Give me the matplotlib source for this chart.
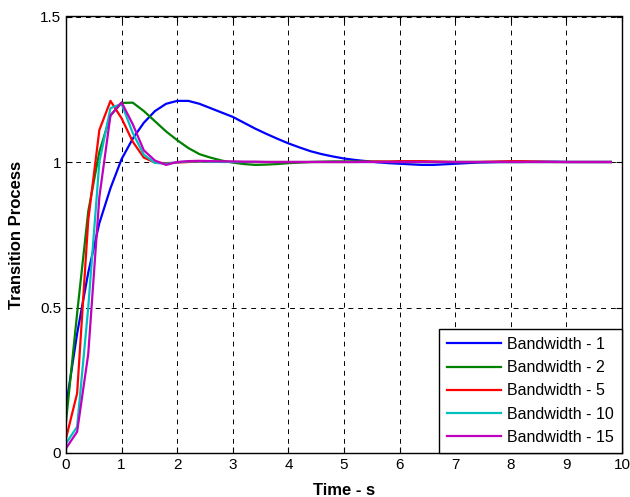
import matplotlib
matplotlib.use("Agg")
import matplotlib.pyplot as plt

plt.rcParams['font.family'] = ['Liberation Sans', 'DejaVu Sans']

time_s = [0.0, 0.2, 0.4, 0.6, 0.8, 1.0, 1.2, 1.4, 1.6, 1.8,
          2.0, 2.2, 2.4, 2.6, 2.8, 3.0, 3.2, 3.4, 3.6, 3.8,
          4.0, 4.2, 4.4, 4.6, 4.8, 5.0, 5.2, 5.4, 5.6, 5.8,
          6.0, 6.2, 6.4, 6.6, 6.8, 7.0, 7.2, 7.4, 7.6, 7.8,
          8.0, 8.2, 8.4, 8.6, 8.8, 9.0, 9.2, 9.4, 9.6, 9.8]

bw1 = [0.16, 0.41, 0.62, 0.79, 0.91, 1.01, 1.08, 1.135, 1.175, 1.20,
       1.21, 1.21, 1.20, 1.185, 1.17, 1.155, 1.135, 1.115, 1.097, 1.08,
       1.064, 1.05, 1.037, 1.027, 1.019, 1.012, 1.007, 1.003, 0.999, 0.996,
       0.994, 0.992, 0.990, 0.990, 0.992, 0.994, 0.996, 0.998, 0.999, 1.0,
       1.0, 1.0, 1.001, 1.001, 1.001, 1.0, 1.0, 1.0, 1.0, 1.0]

bw2 = [0.107, 0.48, 0.83, 1.035, 1.16, 1.203, 1.204, 1.175, 1.14, 1.105,
       1.075, 1.048, 1.027, 1.015, 1.005, 0.998, 0.993, 0.990, 0.991, 0.993,
       0.996, 0.998, 1.0, 1.001, 1.002, 1.002, 1.002, 1.001, 1.001, 1.0,
       1.0, 1.0, 1.0, 1.0, 1.0, 1.0, 1.0, 1.0, 1.0, 1.0,
       1.0, 1.0, 1.0, 1.0, 1.0, 1.0, 1.0, 1.0, 1.0, 1.0]

bw5 = [0.05, 0.205, 0.80, 1.11, 1.21, 1.15, 1.07, 1.015, 0.998, 0.996,
       0.998, 1.0, 1.001, 1.001, 1.001, 1.0, 1.0, 1.0, 1.0, 1.0,
       1.0, 1.0, 1.0, 1.0, 1.0, 1.0, 1.0, 1.001, 1.002, 1.002,
       1.003, 1.003, 1.003, 1.002, 1.001, 1.0, 1.0, 1.0, 1.001, 1.002,
       1.003, 1.003, 1.002, 1.001, 1.0, 1.0, 1.0, 1.0, 1.0, 1.0]

bw10 = [0.033, 0.09, 0.50, 1.0, 1.185, 1.20, 1.10, 1.025, 0.997, 0.994,
        0.999, 1.002, 1.002, 1.001, 1.0, 1.0, 1.0, 1.0, 1.0, 1.0,
        1.0, 1.0, 1.0, 1.0, 1.0, 1.0, 1.0, 1.0, 1.0, 1.0,
        1.0, 1.0, 1.0, 1.0, 1.0, 1.0, 1.0, 1.0, 1.0, 1.0,
        1.0, 1.0, 1.0, 1.0, 1.0, 1.0, 1.0, 1.0, 1.0, 1.0]

bw15 = [0.016, 0.073, 0.34, 0.88, 1.16, 1.205, 1.13, 1.04, 1.005, 0.990,
        1.0, 1.003, 1.004, 1.003, 1.002, 1.002, 1.001, 1.001, 1.0, 1.0,
        1.0, 1.0, 1.0, 1.0, 1.0, 1.0, 1.0, 1.0, 1.0, 1.0,
        1.0, 1.0, 1.0, 1.0, 1.0, 1.0, 1.0, 1.0, 1.0, 1.0,
        1.0, 1.0, 1.0, 1.0, 1.0, 1.0, 1.0, 1.0, 1.0, 1.0]

labels = ['Bandwidth - 1', 'Bandwidth - 2', 'Bandwidth - 5',
          'Bandwidth - 10', 'Bandwidth - 15']
colors = ['#0000ff', '#008000', '#ff0000', '#00bfbf', '#bf00bf']
series = [bw1, bw2, bw5, bw10, bw15]

x_ticks = [0, 1, 2, 3, 4, 5, 6, 7, 8, 9, 10]
y_ticks = [0, 0.5, 1, 1.5]
y_tick_labels = ['0', '0.5', '1', '1.5']

fig = plt.figure(figsize=(6.3, 4.97), dpi=100)
ax = fig.add_axes([66 / 630, 44 / 497, 556 / 630, 436.5 / 497])

for y, c, lab in zip(series, colors, labels):
    ax.plot(time_s, y, color=c, lw=1.6, label=lab)

ax.set_xlim(0, 10)
ax.set_ylim(0, 1.5)
ax.set_xticks(x_ticks)
ax.set_yticks(y_ticks)
ax.set_yticklabels(y_tick_labels)
ax.grid(True, color='black', linestyle=(0, (5, 5)), linewidth=0.7)
ax.tick_params(direction='in', top=True, right=True, length=4,
               labelsize=11, pad=3.5)
for sp in ax.spines.values():
    sp.set_linewidth(1.0)

ax.set_xlabel('Time - s', fontsize=12, fontweight='bold')
ax.set_ylabel('Transition Process', fontsize=12, fontweight='bold')
ax.xaxis.set_label_coords(0.5, -0.069)
ax.yaxis.set_label_coords(-0.076, 0.5)

leg = ax.legend(loc='lower right', fontsize=11.5, frameon=True, fancybox=False,
                borderaxespad=0, handlelength=3.4, labelspacing=0.52,
                borderpad=0.5, handletextpad=0.4)
leg.get_frame().set_edgecolor('black')
leg.get_frame().set_linewidth(1.0)
leg.get_frame().set_alpha(1)

fig.savefig('out.png', dpi=100)
